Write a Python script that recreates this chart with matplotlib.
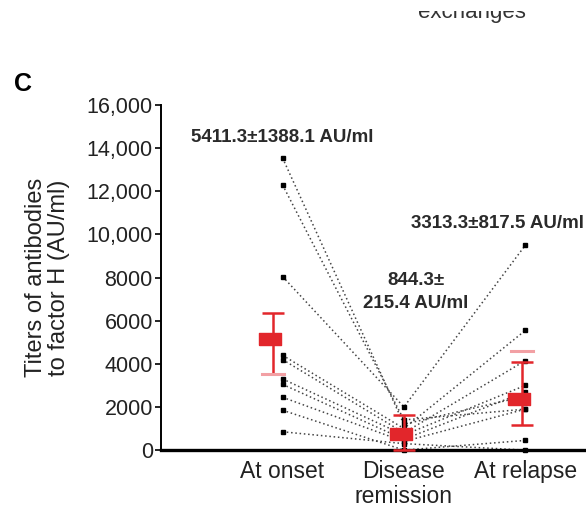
import matplotlib
matplotlib.use("Agg")
import matplotlib.pyplot as plt
from matplotlib.patches import Rectangle

plt.rcParams['font.family'] = ['Liberation Sans', 'DejaVu Sans']

# Data
categories = ["At onset", "Disease\nremission", "At relapse"]
onset = [13550, 12300, 8050, 4400, 4200, 3300, 3050, 2450, 1850, 850]
remission = [1200, 1400, 2000, 1000, 800, 700, 500, 400, 0, 300]
relapse = [2500, 1900, 9500, 5550, 4150, 3000, 2700, 1900, 450, 0]

red_mean = [5130, 770, 2350]
red_hi = [6350, 1620, 4100]
red_lo = [3530, 0, 1150]
red_offset = [-0.08, 0.0, -0.03]
pink_caps = [(0, 3530), (2, 4600)]

notes = ["5411.3\u00b11388.1 AU/ml", "844.3\u00b1\n215.4 AU/ml", "3313.3\u00b1817.5 AU/ml"]

yticks = [0, 2000, 4000, 6000, 8000, 10000, 12000, 14000, 16000]
ytick_labels = ["0", "2000", "4000", "6000", "8000", "10,000", "12,000", "14,000", "16,000"]

fig = plt.figure(figsize=(5.86, 5.15), dpi=100)
ax = fig.add_axes([0.275, 0.126, 0.725, 0.67])

x = [0, 1, 2]
for a, b, c in zip(onset, remission, relapse):
    ax.plot(x, [a, b, c], color='#444444', linestyle=(0, (1, 1.8)), lw=1.1, zorder=2)
    ax.plot(x, [a, b, c], 's', color='black', markersize=3.5, clip_on=False, zorder=3)

# mean markers with error bars
rect = [(-1, -0.55), (1, -0.55), (1, 0.55), (-1, 0.55), (-1, -0.55)]
for i in range(3):
    xi = x[i] + red_offset[i]
    ax.errorbar(xi, red_mean[i],
                yerr=[[red_mean[i] - red_lo[i]], [red_hi[i] - red_mean[i]]],
                fmt='none', ecolor='#e2262b', elinewidth=1.8, capsize=8, capthick=1.8,
                zorder=4, clip_on=False)
    ax.plot(xi - 0.02, red_mean[i], marker=rect, color='#e2262b', markersize=16,
            linestyle='none', zorder=5, clip_on=False)
for i, v in pink_caps:
    xi = x[i] + red_offset[i]
    ax.plot([xi - 0.09, xi + 0.09], [v, v], color='#f2a0a4', lw=2.2, zorder=4)

ax.set_xlim(-1, 2.5)
ax.set_ylim(0, 16000)
ax.set_yticks(yticks)
ax.set_yticklabels(ytick_labels, fontsize=15.5, color='#222222')
ax.set_xticks(x)
ax.set_xticklabels(categories, fontsize=16.5, color='#222222', linespacing=1.1)
ax.tick_params(axis='x', length=0, pad=7)
ax.tick_params(axis='y', length=4, width=1.2, pad=2)

for s in ['top', 'right']:
    ax.spines[s].set_visible(False)
ax.spines['left'].set_linewidth(1.4)
ax.spines['bottom'].set_linewidth(2.4)

ax.set_ylabel("Titers of antibodies\nto factor H (AU/ml)", fontsize=17, color='#222222',
              linespacing=1.05, labelpad=12)

ax.text(0, 14500, notes[0], ha='center', va='center', fontsize=13.5, color='#2a2a2a',
        fontweight='bold')
ax.text(1.1, 7350, notes[1], ha='center', va='center', fontsize=13.5, color='#2a2a2a',
        fontweight='bold', linespacing=1.45)
ax.text(1.77, 10500, notes[2], ha='center', va='center', fontsize=13.5, color='#2a2a2a',
        fontweight='bold')

fig.text(0.04, 1 - 84 / 515, "C", fontsize=18, fontweight='bold', ha='center', va='center')
fig.text(0.806, 1 - 18 / 515, "exchanges", fontsize=16, color='#333333', ha='center',
         va='baseline')
# top of the page is cut off in the original crop
fig.patches.append(Rectangle((0, 1 - 11 / 515), 1, 11 / 515, transform=fig.transFigure,
                             facecolor='white', edgecolor='none', zorder=10))

fig.savefig("out.png", dpi=100)
